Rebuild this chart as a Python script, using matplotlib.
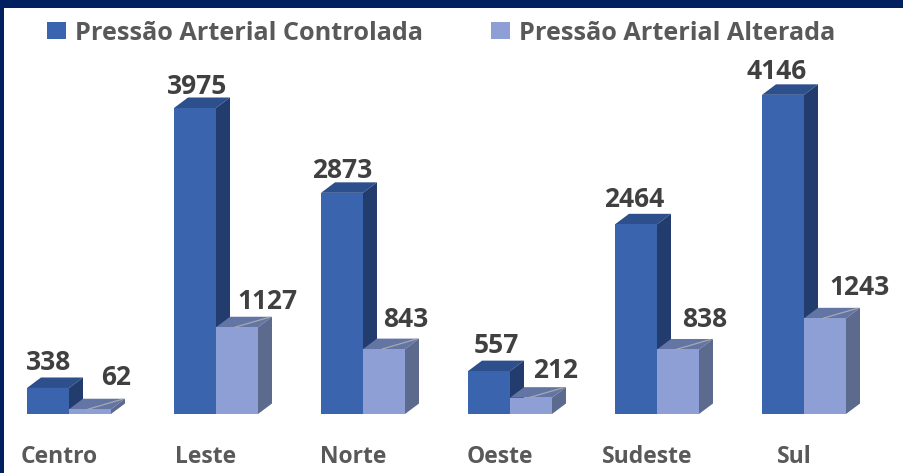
import matplotlib
matplotlib.use('Agg')
import matplotlib.pyplot as plt
from matplotlib.patches import Polygon, Rectangle

plt.rcParams['font.family'] = ['Open Sans', 'DejaVu Sans']

categories = ['Centro', 'Leste', 'Norte', 'Oeste', 'Sudeste', 'Sul']
controlada = [338, 3975, 2873, 557, 2464, 4146]
alterada = [62, 1127, 843, 212, 838, 1243]
series_names = ['Pressão Arterial Controlada', 'Pressão Arterial Alterada']

# label nudges in pixels, the original labels were placed by hand
ctrl_nudge = [(-6, 15), (-5, 11), (-7, 12), (0, 15), (-9, 14), (-13, 13)]
alt_nudge = [(19, 21), (23, 15), (15, 19), (18, 17), (20, 19), (28, 20)]

W, H = 904, 473
PX_X = 147            # pixels per category
PX_Y = 306 / 3975     # pixels per unit
BAR_W = 42 / PX_X
DX = 14 / PX_X        # 3d depth
DY = 10.5 / PX_Y

DARK = ('#3A64AE', '#2D4F8C', '#233C6E')   # front, top, side
LIGHT = ('#8E9FD5', '#6375A5', '#5C6A8E')
NAVY = '#00205F'
INK = '#404040'
GREY = '#595959'


def draw_bar(ax, x, value, colors, zorder):
    front, top, side = colors
    ax.bar(x, value, BAR_W, align='edge', color=front, linewidth=0, zorder=zorder + 0.2)
    ax.add_patch(Polygon([(x, value), (x + BAR_W, value), (x + BAR_W + DX, value + DY), (x + DX, value + DY)],
                         facecolor=top, edgecolor='none', zorder=zorder))
    ax.add_patch(Polygon([(x + BAR_W, 0), (x + BAR_W + DX, DY), (x + BAR_W + DX, value + DY), (x + BAR_W, value)],
                         facecolor=side, edgecolor='none', zorder=zorder))


fig = plt.figure(figsize=(W / 100, H / 100), dpi=100, facecolor=NAVY)
ax = fig.add_axes([4 / W, 0, (W - 4) / W, (H - 8) / H])
ax.set_xlim((4 - 69) / PX_X, (W - 69) / PX_X)
ax.set_ylim(-(H - 414) / PX_Y, (414 - 8) / PX_Y)
ax.set_facecolor('white')
for s in ax.spines.values():
    s.set_visible(False)
ax.set_xticks([])
ax.set_yticks([])

for i, cat in enumerate(categories):
    x1, x2 = i - BAR_W, i
    draw_bar(ax, x1, controlada[i], DARK, 2 + i)
    draw_bar(ax, x2, alterada[i], LIGHT, 2.5 + i)
    # stray gridline showing on the top face of the light bars
    ax.plot([x2 + 0.45 * BAR_W, x2 + BAR_W + DX * 0.8], [alterada[i], alterada[i] + DY * 0.95],
            color='#A9A9A9', lw=0.9, zorder=2.8 + i, solid_capstyle='round')

    ax.annotate(str(controlada[i]), xy=(x1 + (BAR_W + DX) / 2, controlada[i] + DY),
                xytext=ctrl_nudge[i], textcoords='offset pixels', ha='center', va='center',
                fontsize=19, fontweight='bold', color=INK, zorder=20)
    ax.annotate(str(alterada[i]), xy=(x2 + (BAR_W + DX) / 2, alterada[i] + DY),
                xytext=alt_nudge[i], textcoords='offset pixels', ha='center', va='center',
                fontsize=19, fontweight='bold', color=INK, zorder=20)
    ax.annotate(cat, xy=(i, 0), xytext=(-10, -43), textcoords='offset pixels', ha='center', va='center',
                fontsize=16.5, fontweight='bold', color=GREY)

handles = [Rectangle((0, 0), 1, 1, facecolor=DARK[0]), Rectangle((0, 0), 1, 1, facecolor=LIGHT[0])]
leg = fig.legend(handles, series_names, ncol=2, loc='center left', bbox_to_anchor=(47 / W, 1 - 33 / H),
                 frameon=False, fontsize=18.2, handlelength=0.75, handleheight=0.63, handletextpad=0.36,
                 columnspacing=2.7, borderpad=0, borderaxespad=0)
for t in leg.get_texts():
    t.set_color(GREY)
    t.set_fontweight('bold')

fig.savefig('out.png', dpi=100, facecolor=NAVY)
